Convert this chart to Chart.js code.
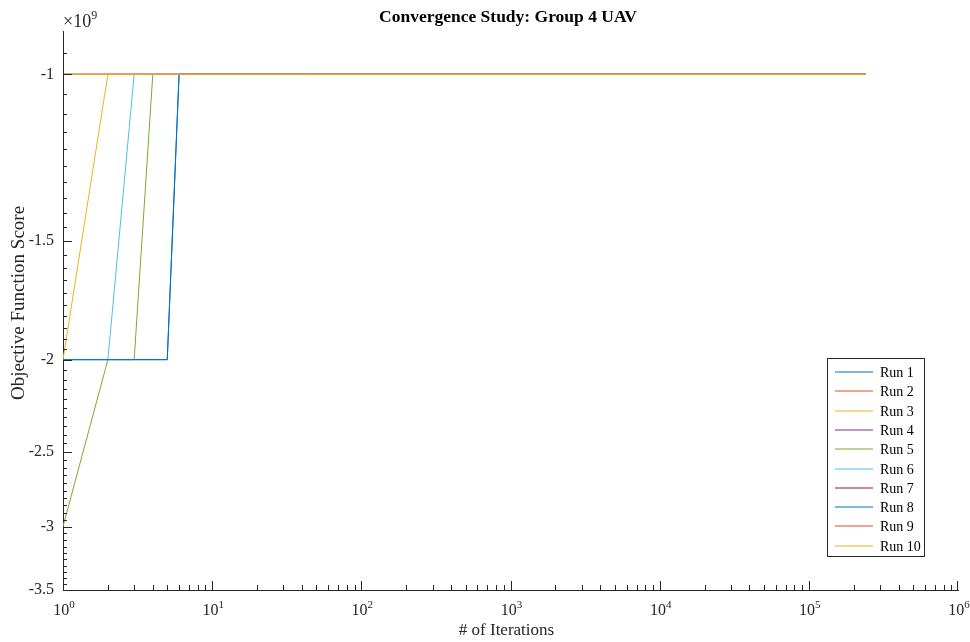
<!DOCTYPE html>
<html>
<head>
<meta charset="utf-8">
<script src="https://cdn.jsdelivr.net/npm/chart.js@4"></script>
<style>
  html, body { margin: 0; padding: 0; background: #fff; }
  canvas { display: block; }
</style>
</head>
<body>
<canvas id="chart" width="970" height="642"></canvas>
<script>
// iteration counts where the runs were sampled (log x axis)
const iterations = [1, 2, 3, 4, 5, 6, 240000];

// objective score per run, in units of 1e9 (axis shows "x10^9")
const run1 = [-2, -2, -2, -2, -2, -1, -1];
const run2 = [-1, -1, -1, -1, -1, -1, -1];
const run3 = [-2, -1, -1, -1, -1, -1, -1];
const run4 = [-1, -1, -1, -1, -1, -1, -1];
const run5 = [-3, -2, -2, -1, -1, -1, -1];
const run6 = [-2, -2, -1, -1, -1, -1, -1];
const run7 = [-1, -1, -1, -1, -1, -1, -1];
const run8 = [-2, -2, -2, -2, -2, -1, -1];
const run9 = [-1, -1, -1, -1, -1, -1, -1];
const run10 = [-1, -1, -1, -1, -1, -1, -1];

const runLabels = ['Run 1', 'Run 2', 'Run 3', 'Run 4', 'Run 5', 'Run 6', 'Run 7', 'Run 8', 'Run 9', 'Run 10'];
const runSeries = [run1, run2, run3, run4, run5, run6, run7, run8, run9, run10];

const yTickValues = [-1, -1.5, -2, -2.5, -3, -3.5];
const xTickExponents = [0, 1, 2, 3, 4, 5, 6];

const matlabColors = ['#0072BD', '#D95319', '#EDB120', '#7E2F8E', '#77AC30', '#4DBEEE', '#A2142F'];
const axisColor = '#262626';
const serif = '"Liberation Serif", "Times New Roman", serif';

// y is drawn on a log scale of the magnitude (MATLAB log axis on negative data)
const datasets = runSeries.map((vals, i) => ({
  label: runLabels[i],
  data: iterations.map((it, j) => ({ x: it, y: -vals[j] })),
  borderColor: matlabColors[i % matlabColors.length],
  borderWidth: 1,
  pointRadius: 0,
  fill: false,
  tension: 0,
  order: runSeries.length - i, // later runs on top, like MATLAB
}));

const decorPlugin = {
  id: 'decor',
  afterDatasetsDraw(chart) {
    const { ctx, chartArea: a, scales } = chart;
    const x = scales.x, y = scales.y;
    ctx.save();
    ctx.strokeStyle = axisColor;
    ctx.lineWidth = 1;

    // inward tick marks, x axis
    ctx.beginPath();
    for (let e = 0; e < 6; e++) {
      for (let m = 1; m <= 9; m++) {
        const px = Math.round(x.getPixelForValue(m * 10 ** e)) + 0.5;
        const len = m === 1 ? 9 : 5;
        ctx.moveTo(px, a.bottom);
        ctx.lineTo(px, a.bottom - len);
      }
    }
    const pxEnd = Math.round(x.getPixelForValue(1e6)) - 0.5;
    ctx.moveTo(pxEnd, a.bottom);
    ctx.lineTo(pxEnd, a.bottom - 9);

    // inward tick marks, y axis (minor every 0.05)
    for (let k = 19; k <= 70; k++) {
      const mag = k * 0.05;
      const py = Math.round(y.getPixelForValue(mag)) + 0.5;
      const major = k % 10 === 0;
      ctx.moveTo(a.left, py);
      ctx.lineTo(a.left + (major ? 9 : 4), py);
    }
    ctx.stroke();

    // x tick labels 10^n
    ctx.fillStyle = axisColor;
    ctx.textBaseline = 'alphabetic';
    ctx.textAlign = 'left';
    xTickExponents.forEach(e => {
      const px = x.getPixelForValue(10 ** e);
      ctx.font = '16px ' + serif;
      const wb = ctx.measureText('10').width;
      ctx.font = '11px ' + serif;
      const we = ctx.measureText(String(e)).width;
      const start = px - (wb + we) / 2 + 1;
      ctx.font = '16px ' + serif;
      ctx.fillText('10', start, 615);
      ctx.font = '11px ' + serif;
      ctx.fillText(String(e), start + wb, 608);
    });

    // exponent marker above y axis
    ctx.font = '18px ' + serif;
    ctx.fillText('\u00d710', 63, 27);
    const wx = ctx.measureText('\u00d710').width;
    ctx.font = '12px ' + serif;
    ctx.fillText('9', 63 + wx, 19);

    // title
    ctx.textAlign = 'center';
    ctx.fillStyle = '#000';
    ctx.font = 'bold 17.5px ' + serif;
    ctx.fillText('Convergence Study: Group 4 UAV', 508, 22);

    // axis titles
    ctx.fillStyle = axisColor;
    ctx.font = '17px ' + serif;
    ctx.fillText('# of Iterations', (a.left + a.right) / 2 - 4, 635);
    ctx.save();
    ctx.translate(24, 303);
    ctx.rotate(-Math.PI / 2);
    ctx.font = '19px ' + serif;
    ctx.fillText('Objective Function Score', 0, 0);
    ctx.restore();

    // legend box
    const lx = 827.5, ly = 358.5, lw = 97, lh = 198;
    ctx.fillStyle = '#fff';
    ctx.fillRect(lx, ly, lw, lh);
    ctx.strokeStyle = axisColor;
    ctx.strokeRect(lx, ly, lw, lh);
    ctx.font = '14px ' + serif;
    ctx.textAlign = 'left';
    ctx.textBaseline = 'middle';
    chart.data.datasets.forEach((ds, i) => {
      const ey = Math.round(372 + i * 19.3);
      ctx.strokeStyle = ds.borderColor;
      ctx.lineWidth = 1.2;
      ctx.beginPath();
      ctx.moveTo(835, ey);
      ctx.lineTo(873, ey);
      ctx.stroke();
      ctx.fillStyle = '#000';
      ctx.fillText(ds.label, 880, ey + 1);
    });
    ctx.restore();
  }
};

new Chart(document.getElementById('chart'), {
  type: 'line',
  data: { datasets },
  plugins: [decorPlugin],
  options: {
    responsive: false,
    animation: false,
    layout: { padding: { top: 31, right: 12, left: 0, bottom: 0 } },
    plugins: {
      legend: { display: false },
      title: { display: false },
      tooltip: { enabled: false },
    },
    scales: {
      x: {
        type: 'logarithmic',
        min: 1,
        max: 1e6,
        ticks: { display: false },
        grid: { display: false, drawTicks: false },
        border: { display: true, color: axisColor, width: 1 },
        afterFit(scale) { scale.height = 52; },
      },
      y: {
        type: 'logarithmic',
        reverse: true,
        min: 0.9,
        max: 3.5,
        afterBuildTicks(scale) {
          scale.ticks = yTickValues.map(v => ({ value: -v }));
        },
        ticks: {
          padding: 9,
          color: axisColor,
          font: { family: serif, size: 16 },
          callback: v => String(-v),
          autoSkip: false,
          maxRotation: 0,
        },
        grid: { display: false, drawTicks: false },
        border: { display: true, color: axisColor, width: 1 },
        afterFit(scale) { scale.width = 63; },
      },
    },
  },
});
</script>
</body>
</html>
